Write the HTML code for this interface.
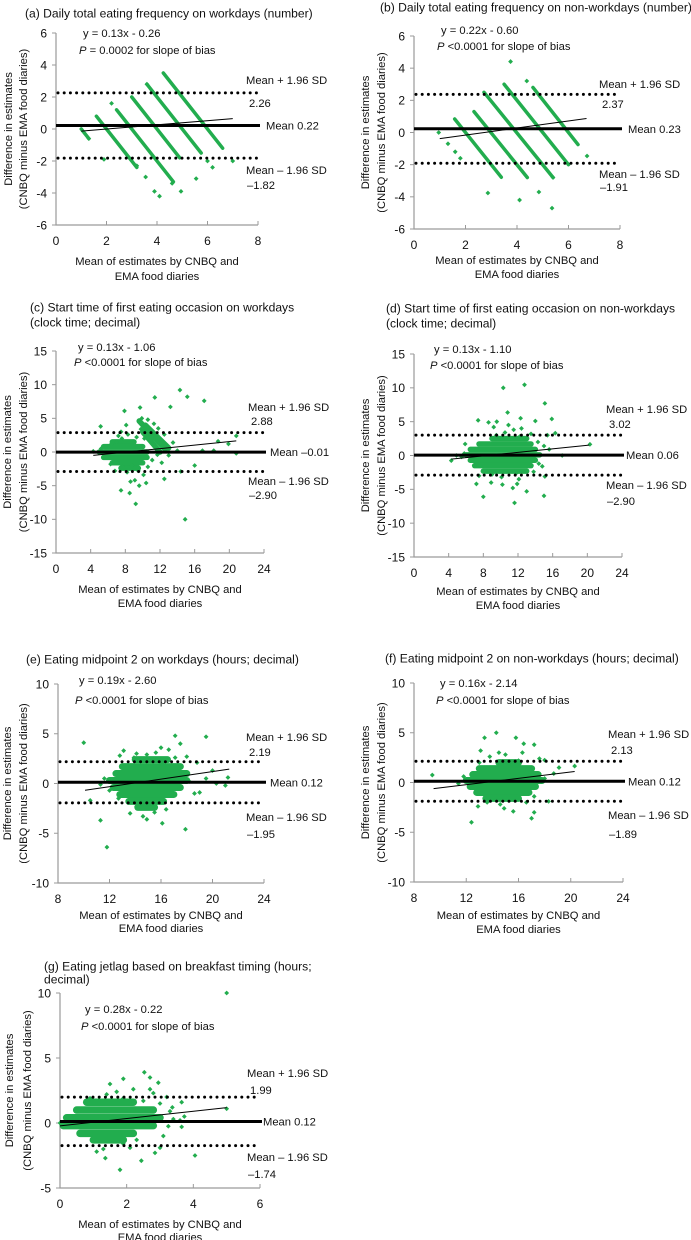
<!DOCTYPE html>
<html><head><meta charset="utf-8">
<style>
html,body{margin:0;padding:0;background:#fff;}
svg{display:block;font-family:"Liberation Sans",Arial,sans-serif;}
text{fill:#111;}
</style></head>
<body>
<svg id="fig" width="691" height="1240" viewBox="0 0 691 1240" xmlns="http://www.w3.org/2000/svg"></svg>
<script>
// ---------- DATA ----------
const aStats=[0.22,2.26,-1.82];
const aReg=[0.13,-0.26,1.0,7.0];
const aSegs=[[1.0,0.0,1.3,-0.6],[1.6,0.8,3.2,-2.4],[2.4,1.2,4.65,-3.3],[3.0,2.0,4.9,-1.8],[3.6,2.8,5.75,-1.5],[4.25,3.5,6.6,-1.2]];
const aPts=[[1.9,-1.9],[3.55,-3.0],[3.9,-3.9],[4.1,-4.2],[4.95,-3.9],[5.55,-3.1],[6.0,-2.0],[6.2,-2.4],[7.0,-2.0],[2.2,1.6],[3.2,-2.3],[4.6,-3.4],[1.3,-0.6],[3.6,2.8]];
const bStats=[0.23,2.37,-1.91];
const bReg=[0.22,-0.60,1.0,6.7];
const bSegs=[[1.58,0.84,3.39,-2.78],[2.33,1.3,4.4,-2.8],[2.72,2.5,5.4,-2.8],[3.5,3.0,6.0,-2.0],[4.62,2.8,6.37,-0.75]];
const bPts=[[0.96,0.0],[1.32,-0.7],[3.75,4.41],[4.38,3.2],[2.87,-3.76],[4.1,-4.2],[4.85,-3.7],[5.36,-4.7],[6.72,-1.46],[5.4,-2.8],[1.6,-1.2],[1.8,-1.6]];
const cStats=[-0.01,2.88,-2.90];
const cReg=[0.13,-1.06,4.3,20.8];
const cSegs=[[6.5,1.5,9,1.5],[5.5,0.8,10,0.8],[5,0,10.5,0],[5.5,-0.8,10.5,-0.8],[6.5,-1.6,10,-1.6],[7.5,-2.4,9.5,-2.4],[9.6,4.6,12.6,0.4],[10.3,4.0,13,0.6],[10,3.0,12,0]];
const cPts=[[14.3,9.2],[15.15,8.2],[17.1,7.6],[11.4,8.1],[13.2,6.7],[7.9,6.1],[9.7,6.6],[14.9,-10],[9.2,-7.7],[7.5,-5.7],[8.5,-6.1],[19.9,1.2],[20.8,-0.2],[18.2,0.2],[18.7,1.6],[16.0,-2.0],[14.4,-2.9],[12.5,-4.0],[5.15,3.8],[4.3,0.1],[20.8,2.4],[16.9,0.2],
[5.2,0.5],[5.8,0.8],[6.4,1.2],[7.0,1.5],[7.1,-1.6],[7.6,2.0],[7.7,-2.2],[8.2,-3.0],[8.3,2.6],[8.8,-2.0],[9.1,-4.2],[9.3,2.2],[9.5,-2.8],[9.8,3.4],[10.1,-3.4],[10.2,2.0],[10.6,-2.2],[11.0,2.8],[11.1,-1.2],[11.3,4.2],[11.5,0.8],[11.7,-0.4],[12.0,1.8],[12.2,-1.6],[12.5,2.6],[12.8,0.9],[13.0,-0.5],[13.5,1.4],[14.0,0.2],[6.8,-2.8],[7.2,2.4],[8.6,-4.4],[9.6,-5.0],[10.4,-4.6],[6.3,-1.8],[7.5,3.0],[8.1,4.0],[11.8,3.5],[10.6,4.8],[9.9,5.0]];
const dStats=[0.06,3.02,-2.90];
const dReg=[0.13,-1.10,4.3,20.2];
const dSegs=[[9,2.5,13,2.5],[7.5,1.7,13.5,1.7],[6.5,0.9,14,0.9],[6,0.1,14.5,0.1],[6.5,-0.7,14,-0.7],[7,-1.5,13.5,-1.5],[8,-2.3,13,-2.3]];
const dPts=[[10.3,10.0],[12.75,10.45],[10.8,6.35],[15.1,7.7],[15.9,5.4],[15.4,3.0],[16.3,3.3],[20.3,1.65],[17.1,0.0],[8.0,-6.1],[11.6,-7.0],[15.0,-5.96],[13.0,-5.3],[7.2,-4.2],[4.3,-0.75],[4.9,0],[7.4,5.2],[8.6,4.9],[9.55,5.0],[14.0,5.1],[12.3,5.5],[5.9,1.7],[14.4,-1.2],[15.1,-3.1],
[9.5,3.0],[10.5,3.4],[11.5,3.8],[12.2,2.8],[9.0,-2.8],[10.1,-3.2],[11.8,-2.6],[7.5,-3.0],[8.9,-4.0],[10.2,-4.3],[11.4,-4.8],[12.1,-3.5],[9.2,4.2],[10.9,4.5],[12.4,4.0],[5.8,0.3],[5.5,-0.2],[13.5,3.2],[14.8,-1.6],[15.6,0.9],[11.9,-4.2],[14.3,2.0],[15.0,1.4],[13.8,-2.4]];
const eStats=[0.12,2.19,-1.95];
const eReg=[0.19,-2.60,10.1,21.3];
const eSegs=[[14,2.4,16.5,2.4],[13,1.7,17.5,1.7],[12.5,1.0,18,1.0],[12,0.3,18,0.3],[12.3,-0.4,17.5,-0.4],[12.8,-1.1,17,-1.1],[13.5,-1.8,16.2,-1.8],[14.2,-2.4,15.5,-2.4]];
const ePts=[[10.0,4.1],[11.8,-6.4],[11.3,-3.7],[10.5,-1.7],[17.9,-4.6],[19.5,4.7],[17.1,4.8],[16.1,2.0],[21.2,0.6],[21.0,-0.2],[19.0,-0.9],[20.3,0],[19.5,0.5],[16.1,-4.0],[14.9,-3.6],[17.5,4.0],[18.0,2.7],[18.8,2.1],[13.1,3.3],[11.3,-0.1],[12.0,-0.7],[14.1,-2.3],[20.0,1.3],
[13.9,2.6],[14.9,2.9],[15.6,3.1],[17.1,2.6],[18.2,0.2],[18.6,-1.0],[13.6,-3.0],[14.6,-3.3],[15.5,-2.9],[16.4,-2.6],[12.8,2.8],[14.1,3.0],[16.0,3.6],[16.6,3.4],[12.7,-1.5],[11.6,0.5]];
const fStats=[0.12,2.13,-1.89];
const fReg=[0.16,-2.14,9.5,20.3];
const fSegs=[[14.5,2.0,16,2.0],[13,1.4,17,1.4],[12.5,0.8,17.5,0.8],[12,0.2,17.8,0.2],[12.3,-0.4,17.3,-0.4],[12.8,-1.0,16.8,-1.0],[13.5,-1.6,16,-1.6]];
const fPts=[[9.4,0.75],[14.3,5.0],[13.4,4.5],[15.8,4.5],[16.4,3.9],[17.2,3.8],[12.4,-4.0],[17.0,-3.6],[17.2,-3.0],[15.6,-2.9],[20.3,1.65],[18.3,-1.9],[18.7,0.9],[19.1,1.5],[18.0,2.25],[17.6,2.4],[18.0,0.4],[11.4,-0.1],
[13.0,2.0],[13.8,2.6],[15.0,2.8],[16.0,2.2],[13.6,-2.0],[14.6,-2.2],[16.6,-2.0],[13.1,3.2],[14.5,3.0],[16.3,3.0],[12.9,-2.4],[14.9,-2.6],[17.2,-1.4],[11.8,0.6]];
const gStats=[0.12,1.99,-1.74];
const gReg=[0.28,-0.22,0.0,5.0];
const gSegs=[[0.8,1.6,2.2,1.6],[0.5,1.0,2.8,1.0],[0.2,0.4,3.0,0.4],[0.1,-0.2,2.8,-0.2],[0.6,-0.8,2.2,-0.8],[1.0,-1.3,1.9,-1.3]];
const gPts=[[5.0,10],[5.0,1.1],[1.8,-3.6],[1.36,-2.7],[2.44,-2.9],[4.05,-2.5],[2.53,3.9],[2.7,3.5],[1.9,3.4],[1.5,3.0],[3.37,1.2],[3.65,1.6],[3.65,-0.3],[3.73,0.5],[3.25,-0.25],[2.85,-2.3],[3.0,-1.9],[2.95,3.1],[2.8,2.3],[3.4,0.3],
[1.4,2.2],[1.7,2.4],[1.9,1.9],[2.2,2.6],[2.5,1.7],[2.7,2.6],[3.0,1.5],[3.1,-1.0],[3.2,2.0],[1.1,-2.2],[1.3,-2.0],[0.9,1.9],[2.1,-1.9],[3.6,0.2],[3.3,0.9],[2.3,-1.3],[1.9,-1.6],[0.0,0.0]];
const ticks8=[0,2,4,6,8], ticks6=[0,2,4,6], ticks24=[0,4,8,12,16,20,24], ticks824=[8,12,16,20,24];
const yT6=[-6,-4,-2,0,2,4,6], yT15=[-15,-10,-5,0,5,10,15], yT10=[-10,-5,0,5,10], yTg=[-5,0,5,10];
const titles={a:["(a) Daily total eating frequency on workdays (number)"],b:["(b) Daily total eating frequency on non-workdays (number)"],c:["(c) Start time of first eating occasion on workdays","(clock time; decimal)"],d:["(d) Start time of first eating occasion on non-workdays","(clock time; decimal)"],e:["(e) Eating midpoint 2 on workdays (hours; decimal)"],f:["(f) Eating midpoint 2 on non-workdays (hours; decimal)"],g:["(g) Eating jetlag based on breakfast timing (hours;","decimal)"]};
const pvals={a:"= 0.0002",b:"<0.0001",c:"<0.0001",d:"<0.0001",e:"<0.0001",f:"<0.0001",g:"<0.0001"};

// ---------- LAYOUT ----------
const panels=[
 {id:'a',L:56,R:258,T:33,B:225,xr:[0,8],yr:[-6,6],xt:ticks8,yt:yT6,st:aStats,rg:aReg,sg:aSegs,sw:3.5,pt:aPts,tx:25,ty:[13],eq:[83,33,50],lx:246,lu:[80,103],lm:[266],ll:[170,185],yx:[8,23],xy:[261,276]},
 {id:'b',L:414,R:620,T:36,B:229,xr:[0,8],yr:[-6,6],xt:ticks8,yt:yT6,st:bStats,rg:bReg,sg:bSegs,sw:3.5,pt:bPts,tx:380,ty:[7],eq:[441,30,46],lx:599,lu:[84,104],lm:[628],ll:[174,187],yx:[365,381],xy:[260,274]},
 {id:'c',L:56,R:264,T:351,B:553,xr:[0,24],yr:[-15,15],xt:ticks24,yt:yT15,st:cStats,rg:cReg,sg:cSegs,sw:5.5,pt:cPts,tx:30,ty:[307,322],eq:[78,347,362],lx:248,lu:[407,421],lm:[270],ll:[481,495],yx:[7,23],xy:[589,603]},
 {id:'d',L:414,R:622,T:354,B:557,xr:[0,24],yr:[-15,15],xt:ticks24,yt:yT15,st:dStats,rg:dReg,sg:dSegs,sw:5.5,pt:dPts,tx:386,ty:[308,323],eq:[434,349,365],lx:606,lu:[409,424],lm:[626],ll:[485,501],yx:[365,381],xy:[591,605]},
 {id:'e',L:58,R:264,T:684,B:883,xr:[8,24],yr:[-10,10],xt:ticks824,yt:yT10,st:eStats,rg:eReg,sg:eSegs,sw:7,pt:ePts,tx:26,ty:[659],eq:[79,680,700],lx:246,lu:[737,752],lm:[270],ll:[817,834],yx:[7,23],xy:[915,928]},
 {id:'f',L:414,R:623,T:683,B:882,xr:[8,24],yr:[-10,10],xt:ticks824,yt:yT10,st:fStats,rg:fReg,sg:fSegs,sw:7,pt:fPts,tx:385,ty:[658],eq:[440,683,700],lx:608,lu:[734,750],lm:[628],ll:[815,834],yx:[365,381],xy:[915,929]},
 {id:'g',L:60,R:260,T:993,B:1188,xr:[0,6],yr:[-5,10],xt:ticks6,yt:yTg,st:gStats,rg:gReg,sg:gSegs,sw:7.5,pt:gPts,tx:44,ty:[966,979],eq:[85,1009,1026],lx:247,lu:[1073,1090],lm:[263],ll:[1157,1174],yx:[9,27],xy:[1224,1237]}
];
const NS='http://www.w3.org/2000/svg';
const svg=document.getElementById('fig');
function mk(tag,attrs,parent){const e=document.createElementNS(NS,tag);for(const k in attrs)e.setAttribute(k,attrs[k]);(parent||svg).appendChild(e);return e;}
function fmt(v){return (v<0?'\u2013':'')+Math.abs(v).toFixed(2);}
const GREEN='#22ad4e';
const FS=11.2;
panels.forEach(p=>{
 const g=mk('g',{});
 
 
 const sx=v=>p.L+(v-p.xr[0])/(p.xr[1]-p.xr[0])*(p.R-p.L);
 const sy=v=>p.B-(v-p.yr[0])/(p.yr[1]-p.yr[0])*(p.B-p.T);
 p.ty.forEach((y,i)=>{const t=mk('text',{x:p.tx,y:y+4.5,'font-size':12.1},g);t.textContent=titles[p.id][i];
  
  });
 const ax=mk('path',{d:`M${p.L} ${p.T}V${p.B}H${p.R}`,stroke:'#9a9a9a','stroke-width':1.2,fill:'none'},g);
 
 
 p.yt.forEach(v=>{const y=sy(v);mk('line',{x1:p.L-4,x2:p.L,y1:y,y2:y,stroke:'#9a9a9a'},g);
  const t=mk('text',{x:p.L-9,y:y+4.3,'font-size':12,'text-anchor':'end'},g);t.textContent=v;
  
  });
 p.xt.forEach(v=>{const x=sx(v);mk('line',{x1:x,x2:x,y1:p.B,y2:p.B-4,stroke:'#9a9a9a'},g);
  const t=mk('text',{x:x,y:p.B+20,'font-size':12,'text-anchor':'middle'},g);t.textContent=v;
  
  });
 ['Mean of estimates by CNBQ and','EMA food diaries'].forEach((s,i)=>{const t=mk('text',{x:(p.L+p.R)/2,y:p.xy[i]+4,'font-size':FS,'text-anchor':'middle'},g);t.textContent=s;
  
  });
 const cy=(p.T+p.B)/2;
 ['Difference in estimates','(CNBQ minus EMA food diaries)'].forEach((s,i)=>{const t=mk('text',{x:p.yx[i]+4,y:cy,'font-size':FS,'text-anchor':'middle',transform:`rotate(-90 ${p.yx[i]+4} ${cy})`},g);t.textContent=s;
  
  });
 p.sg.forEach(s=>{const l=mk('line',{x1:sx(s[0]),y1:sy(s[1]),x2:sx(s[2]),y2:sy(s[3]),stroke:GREEN,'stroke-width':p.sw,'stroke-linecap':'round'},g);
  
  });
 p.pt.forEach(q=>{const x=sx(q[0]),y=sy(q[1]);const d=mk('path',{d:`M${x} ${y-2.4}L${x+2.4} ${y}L${x} ${y+2.4}L${x-2.4} ${y}Z`,fill:GREEN},g);
  
  });
 [p.st[1],p.st[2]].forEach(v=>{const l=mk('line',{x1:p.L+2,x2:p.R,y1:sy(v),y2:sy(v),stroke:'#000','stroke-width':3,'stroke-dasharray':'0 6.2','stroke-linecap':'round'},g);
  
  });
 const ml=mk('line',{x1:p.L,x2:p.R+2,y1:sy(p.st[0]),y2:sy(p.st[0]),stroke:'#000','stroke-width':3},g);
 
 
 const rl=mk('line',{x1:sx(p.rg[2]),y1:sy(p.rg[0]*p.rg[2]+p.rg[1]),x2:sx(p.rg[3]),y2:sy(p.rg[0]*p.rg[3]+p.rg[1]),stroke:'#000','stroke-width':1},g);
 
 
 const lab=(s,x,y,name)=>{const t=mk('text',{x:x,y:y+4,'font-size':FS},g);t.textContent=s;
  
  return t;};
 lab('Mean + 1.96 SD',p.lx,p.lu[0],'upper-limit-label');
 lab(fmt(p.st[1]),p.lx+3,p.lu[1],'upper-limit-value');
 lab('Mean '+fmt(p.st[0]),p.lm[0],sy(p.st[0]),'mean-label');
 lab('Mean \u2013 1.96 SD',p.lx,p.ll[0],'lower-limit-label');
 lab(fmt(p.st[2]),p.lx+1,p.ll[1],'lower-limit-value');
 lab('y = '+p.rg[0].toFixed(2)+'x - '+Math.abs(p.rg[1]).toFixed(2),p.eq[0],p.eq[1],'regression-equation');
 const pt=mk('text',{x:p.eq[0]-4,y:p.eq[2]+4,'font-size':FS},g);
 
 
 const it=mk('tspan',{'font-style':'italic'},pt);it.textContent='P';
 const rt=mk('tspan',{},pt);rt.textContent=' '+pvals[p.id]+' for slope of bias';
});
</script>
</body></html>
